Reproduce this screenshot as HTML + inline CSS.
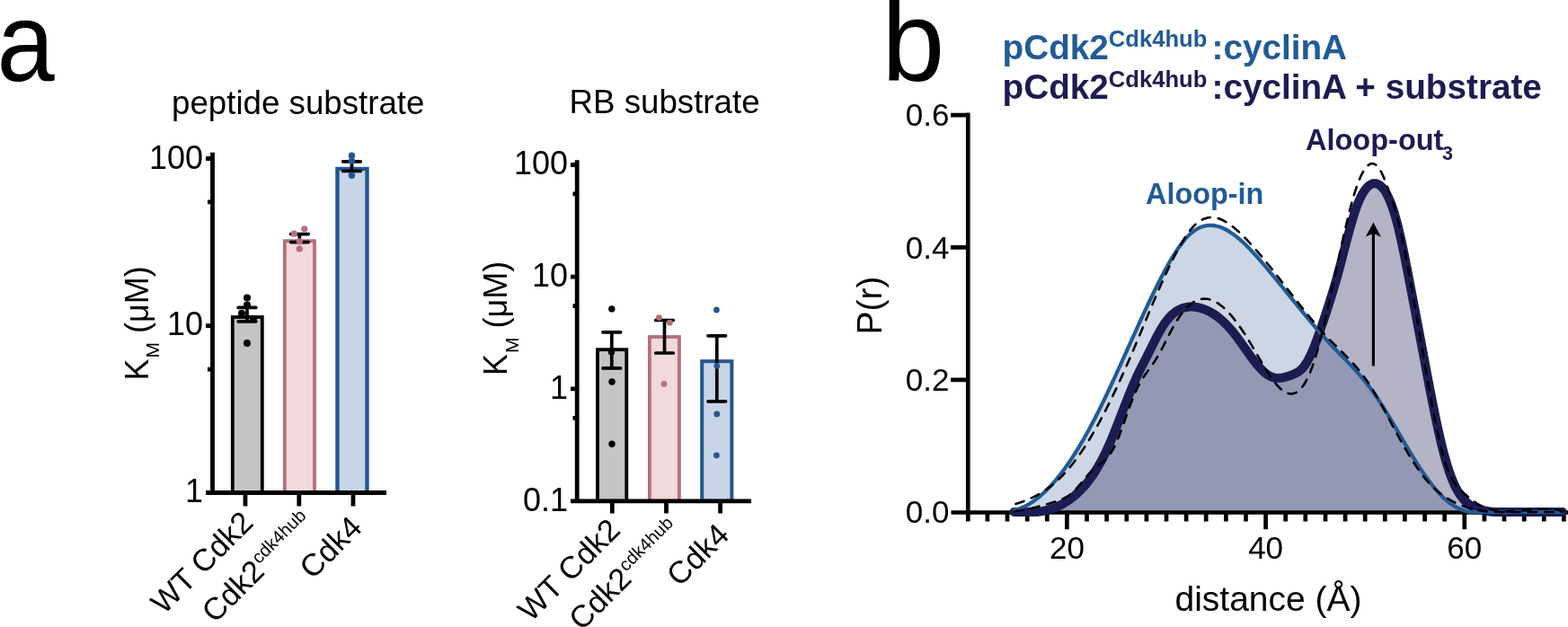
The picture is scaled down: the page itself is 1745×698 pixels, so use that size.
<!DOCTYPE html>
<html><head><meta charset="utf-8"><title>Figure</title>
<style>html,body{margin:0;padding:0;background:#fff;width:1745px;height:698px;overflow:hidden}svg{display:block}</style>
</head><body>
<svg width="1745" height="698" viewBox="0 0 1745 698">
<rect width="1745" height="698" fill="#fff"/>
<text transform="translate(-3.6,89.6) scale(0.93,1)" style="font-family:'Liberation Sans',Arial,Helvetica,sans-serif;font-size:124px" fill="#000">a</text>
<text x="981.3" y="90" style="font-family:'Liberation Sans',Arial,Helvetica,sans-serif;font-size:126px" fill="#000">b</text>
<rect x="258.8" y="353.0" width="33.0" height="195.5" fill="#c4c4c4" stroke="#000" stroke-width="3.8"/>
<rect x="316.8" y="268.2" width="33.2" height="280.3" fill="#f2d9dc" stroke="#b5707b" stroke-width="3.8"/>
<rect x="375.5" y="188.0" width="33.0" height="360.5" fill="#c8d5e6" stroke="#23568f" stroke-width="4.4"/>
<path d="M275.0,342.4 V357.8 M265.2,342.4 h19.6 M265.2,357.8 h19.6" stroke="#000" stroke-width="3.7" stroke-linecap="round" fill="none"/>
<path d="M333.4,260.6 V269.6 M323.6,260.6 h19.6 M323.6,269.6 h19.6" stroke="#000" stroke-width="3.7" stroke-linecap="round" fill="none"/>
<path d="M391.5,179.8 V190.5 M381.7,179.8 h19.6 M381.7,190.5 h19.6" stroke="#000" stroke-width="3.7" stroke-linecap="round" fill="none"/>
<circle cx="275.0" cy="331.5" r="4.0" fill="#000"/><circle cx="275.0" cy="339.5" r="4.0" fill="#000"/><circle cx="269.0" cy="348.7" r="4.0" fill="#000"/><circle cx="282.0" cy="355.0" r="4.0" fill="#000"/><circle cx="275.0" cy="382.0" r="4.0" fill="#000"/>
<circle cx="338.8" cy="254.8" r="3.6" fill="#b86f7c"/><circle cx="327.3" cy="260.2" r="3.6" fill="#b86f7c"/><circle cx="333.3" cy="268.8" r="3.6" fill="#b86f7c"/><circle cx="333.3" cy="277.0" r="3.6" fill="#b86f7c"/>
<circle cx="391.5" cy="173.3" r="3.7" fill="#24568f"/><circle cx="391.5" cy="179.3" r="3.7" fill="#24568f"/><circle cx="391.5" cy="195.2" r="3.7" fill="#24568f"/>
<path d="M236.5,169.7 V551 M229,548.5 H430 M229,176.5 H237 M229,362.7 H237 M231,224.9 H237 M231,411.1 H237 M273,551 V563.6 M332.8,551 V563.6 M393,551 V563.6" stroke="#000" stroke-width="4.8" fill="none"/>
<text x="226" y="188.3" text-anchor="end" style="font-family:'Liberation Sans',Arial,Helvetica,sans-serif;font-size:36px">100</text>
<text x="226" y="373.3" text-anchor="end" style="font-family:'Liberation Sans',Arial,Helvetica,sans-serif;font-size:36px">10</text>
<text x="226" y="559.0" text-anchor="end" style="font-family:'Liberation Sans',Arial,Helvetica,sans-serif;font-size:36px">1</text>
<text x="191" y="127" style="font-family:'Liberation Sans',Arial,Helvetica,sans-serif;font-size:36.7px">peptide substrate</text>
<text transform="translate(164.8,423.6) rotate(-90)" style="font-family:'Liberation Sans',Arial,Helvetica,sans-serif;font-size:36px">K<tspan font-size="21" dy="12.5" dx="1">M</tspan><tspan dy="-12.5"> (μM)</tspan></text>
<text transform="translate(283.5,583.7) rotate(-45)" text-anchor="end" style="font-family:'Liberation Sans',Arial,Helvetica,sans-serif;font-size:34.5px">WT Cdk2</text>
<text transform="translate(296.0,637.9) rotate(-45)" text-anchor="end" style="font-family:'Liberation Sans',Arial,Helvetica,sans-serif;font-size:34.5px">Cdk2</text>
<text transform="translate(404.8,589.1) rotate(-45)" text-anchor="end" style="font-family:'Liberation Sans',Arial,Helvetica,sans-serif;font-size:34.5px">Cdk4</text>
<text transform="translate(288.3,628.6) rotate(-45)" style="font-family:'Liberation Sans',Arial,Helvetica,sans-serif;font-size:20px">cdk4hub</text>
<rect x="665.0" y="389.2" width="32.3" height="168.6" fill="#c4c4c4" stroke="#000" stroke-width="3.8"/>
<rect x="722.9" y="375.0" width="33.0" height="182.8" fill="#f2d9dc" stroke="#b5707b" stroke-width="3.8"/>
<rect x="781.2" y="402.2" width="33.2" height="155.6" fill="#c8d5e6" stroke="#23568f" stroke-width="4.0"/>
<path d="M680.8,369.9 V409.9 M671.0,369.9 h19.6 M671.0,409.9 h19.6" stroke="#000" stroke-width="3.7" stroke-linecap="round" fill="none"/>
<path d="M739.5,356.5 V393.0 M729.7,356.5 h19.6 M729.7,393.0 h19.6" stroke="#000" stroke-width="3.7" stroke-linecap="round" fill="none"/>
<path d="M797.8,373.8 V446.8 M788.0,373.8 h19.6 M788.0,446.8 h19.6" stroke="#000" stroke-width="3.7" stroke-linecap="round" fill="none"/>
<circle cx="680.8" cy="343.9" r="3.7" fill="#000"/><circle cx="680.5" cy="392.0" r="3.7" fill="#000"/><circle cx="681.0" cy="425.0" r="3.7" fill="#000"/><circle cx="681.0" cy="494.3" r="3.7" fill="#000"/>
<circle cx="733.5" cy="353.6" r="3.4" fill="#b86f7c"/><circle cx="745.3" cy="359.2" r="3.4" fill="#b86f7c"/><circle cx="739.0" cy="427.4" r="3.4" fill="#b86f7c"/>
<circle cx="797.4" cy="345.0" r="3.4" fill="#24568f"/><circle cx="797.8" cy="407.3" r="3.4" fill="#24568f"/><circle cx="797.8" cy="460.9" r="3.4" fill="#24568f"/><circle cx="797.4" cy="507.0" r="3.4" fill="#24568f"/>
<path d="M642.2,178.3 V560 M635,557.8 H836 M635,183.5 H643 M635,308.2 H643 M635,432.9 H643 M637.5,215.9 H643 M637.5,340.6 H643 M637.5,465.3 H643 M681.3,560 V571.6 M741.5,560 V571.6 M801.6,560 V571.6" stroke="#000" stroke-width="4.8" fill="none"/>
<text x="632" y="194.4" text-anchor="end" style="font-family:'Liberation Sans',Arial,Helvetica,sans-serif;font-size:36px">100</text>
<text x="632" y="319.0" text-anchor="end" style="font-family:'Liberation Sans',Arial,Helvetica,sans-serif;font-size:36px">10</text>
<text x="632" y="444.2" text-anchor="end" style="font-family:'Liberation Sans',Arial,Helvetica,sans-serif;font-size:36px">1</text>
<text x="632" y="569.0" text-anchor="end" style="font-family:'Liberation Sans',Arial,Helvetica,sans-serif;font-size:36px">0.1</text>
<text x="633.5" y="125.5" style="font-family:'Liberation Sans',Arial,Helvetica,sans-serif;font-size:36.7px">RB substrate</text>
<text transform="translate(564.1,417.9) rotate(-90)" style="font-family:'Liberation Sans',Arial,Helvetica,sans-serif;font-size:36px">K<tspan font-size="21" dy="12.5" dx="1">M</tspan><tspan dy="-12.5"> (μM)</tspan></text>
<text transform="translate(692.0,592.0) rotate(-45)" text-anchor="end" style="font-family:'Liberation Sans',Arial,Helvetica,sans-serif;font-size:34.5px">WT Cdk2</text>
<text transform="translate(704.5,646.2) rotate(-45)" text-anchor="end" style="font-family:'Liberation Sans',Arial,Helvetica,sans-serif;font-size:34.5px">Cdk2</text>
<text transform="translate(813.3,597.4) rotate(-45)" text-anchor="end" style="font-family:'Liberation Sans',Arial,Helvetica,sans-serif;font-size:34.5px">Cdk4</text>
<text transform="translate(696.8,636.9) rotate(-45)" style="font-family:'Liberation Sans',Arial,Helvetica,sans-serif;font-size:20px">cdk4hub</text>
<path d="M1129.0,567.7 L1130.5,567.4 L1132.0,567.0 L1133.5,566.5 L1135.0,566.0 L1136.5,565.4 L1138.0,564.8 L1139.5,564.1 L1141.0,563.4 L1142.5,562.6 L1144.0,561.8 L1145.5,560.9 L1147.0,560.0 L1148.5,559.1 L1150.0,558.1 L1151.5,557.0 L1153.0,555.9 L1154.5,554.7 L1156.0,553.5 L1157.5,552.3 L1159.0,551.0 L1160.5,549.6 L1162.0,548.3 L1163.5,546.8 L1165.0,545.3 L1166.5,543.8 L1168.0,542.3 L1169.5,540.6 L1171.0,539.0 L1172.5,537.3 L1174.0,535.6 L1175.5,533.8 L1177.0,531.9 L1178.5,530.1 L1180.0,528.2 L1181.5,526.2 L1183.0,524.2 L1184.5,522.2 L1186.0,520.1 L1187.5,518.0 L1189.0,515.8 L1190.5,513.6 L1192.0,511.4 L1193.5,509.1 L1195.0,506.8 L1196.5,504.5 L1198.0,502.1 L1199.5,499.6 L1201.0,497.2 L1202.5,494.7 L1204.0,492.1 L1205.5,489.6 L1207.0,486.9 L1208.5,484.3 L1210.0,481.6 L1211.5,478.9 L1213.0,476.1 L1214.5,473.3 L1216.0,470.5 L1217.5,467.6 L1219.0,464.8 L1220.5,461.8 L1222.0,458.9 L1223.5,455.9 L1225.0,452.8 L1226.5,449.8 L1228.0,446.7 L1229.5,443.6 L1231.0,440.5 L1232.5,437.3 L1234.0,434.2 L1235.5,431.0 L1237.0,427.7 L1238.5,424.5 L1240.0,421.3 L1241.5,418.0 L1243.0,414.7 L1244.5,411.4 L1246.0,408.1 L1247.5,404.8 L1249.0,401.5 L1250.5,398.2 L1252.0,394.9 L1253.5,391.6 L1255.0,388.2 L1256.5,384.9 L1258.0,381.6 L1259.5,378.2 L1261.0,374.9 L1262.5,371.6 L1264.0,368.3 L1265.5,365.0 L1267.0,361.7 L1268.5,358.4 L1270.0,355.1 L1271.5,351.9 L1273.0,348.6 L1274.5,345.4 L1276.0,342.2 L1277.5,339.0 L1279.0,335.8 L1280.5,332.7 L1282.0,329.6 L1283.5,326.5 L1285.0,323.4 L1286.5,320.3 L1288.0,317.3 L1289.5,314.3 L1291.0,311.4 L1292.5,308.5 L1294.0,305.6 L1295.5,302.8 L1297.0,300.0 L1298.5,297.2 L1300.0,294.5 L1301.5,291.9 L1303.0,289.3 L1304.5,286.8 L1306.0,284.4 L1307.5,282.0 L1309.0,279.7 L1310.5,277.4 L1312.0,275.3 L1313.5,273.2 L1315.0,271.2 L1316.5,269.2 L1318.0,267.4 L1319.5,265.7 L1321.0,264.0 L1322.5,262.5 L1324.0,261.0 L1325.5,259.7 L1327.0,258.4 L1328.5,257.3 L1330.0,256.2 L1331.5,255.3 L1333.0,254.4 L1334.5,253.7 L1336.0,253.0 L1337.5,252.5 L1339.0,252.0 L1340.5,251.6 L1342.0,251.3 L1343.5,251.0 L1345.0,250.9 L1346.5,250.8 L1348.0,250.8 L1349.5,250.9 L1351.0,251.1 L1352.5,251.3 L1354.0,251.7 L1355.5,252.0 L1357.0,252.5 L1358.5,253.0 L1360.0,253.6 L1361.5,254.2 L1363.0,255.0 L1364.5,255.7 L1366.0,256.6 L1367.5,257.4 L1369.0,258.4 L1370.5,259.4 L1372.0,260.4 L1373.5,261.5 L1375.0,262.6 L1376.5,263.8 L1378.0,265.1 L1379.5,266.3 L1381.0,267.7 L1382.5,269.0 L1384.0,270.4 L1385.5,271.8 L1387.0,273.3 L1388.5,274.8 L1390.0,276.3 L1391.5,277.9 L1393.0,279.5 L1394.5,281.1 L1396.0,282.7 L1397.5,284.4 L1399.0,286.0 L1400.5,287.7 L1402.0,289.5 L1403.5,291.2 L1405.0,292.9 L1406.5,294.7 L1408.0,296.4 L1409.5,298.2 L1411.0,300.0 L1412.5,301.8 L1414.0,303.6 L1415.5,305.4 L1417.0,307.2 L1418.5,309.0 L1420.0,310.9 L1421.5,312.7 L1423.0,314.5 L1424.5,316.4 L1426.0,318.2 L1427.5,320.0 L1429.0,321.9 L1430.5,323.7 L1432.0,325.6 L1433.5,327.4 L1435.0,329.3 L1436.5,331.1 L1438.0,333.0 L1439.5,334.8 L1441.0,336.7 L1442.5,338.5 L1444.0,340.4 L1445.5,342.2 L1447.0,344.0 L1448.5,345.9 L1450.0,347.7 L1451.5,349.5 L1453.0,351.3 L1454.5,353.2 L1456.0,355.0 L1457.5,356.7 L1459.0,358.5 L1460.5,360.3 L1462.0,362.1 L1463.5,363.8 L1465.0,365.6 L1466.5,367.3 L1468.0,369.1 L1469.5,370.8 L1471.0,372.5 L1472.5,374.2 L1474.0,375.9 L1475.5,377.5 L1477.0,379.2 L1478.5,380.8 L1480.0,382.4 L1481.5,384.0 L1483.0,385.6 L1484.5,387.2 L1486.0,388.8 L1487.5,390.3 L1489.0,391.9 L1490.5,393.4 L1492.0,394.9 L1493.5,396.5 L1495.0,398.0 L1496.5,399.6 L1498.0,401.1 L1499.5,402.6 L1501.0,404.2 L1502.5,405.8 L1504.0,407.4 L1505.5,409.0 L1507.0,410.6 L1508.5,412.2 L1510.0,413.9 L1511.5,415.5 L1513.0,417.3 L1514.5,419.0 L1516.0,420.8 L1517.5,422.5 L1519.0,424.4 L1520.5,426.2 L1522.0,428.2 L1523.5,430.1 L1525.0,432.1 L1526.5,434.1 L1528.0,436.2 L1529.5,438.3 L1531.0,440.5 L1532.5,442.7 L1534.0,445.0 L1535.5,447.2 L1537.0,449.6 L1538.5,451.9 L1540.0,454.3 L1541.5,456.7 L1543.0,459.2 L1544.5,461.6 L1546.0,464.1 L1547.5,466.6 L1549.0,469.1 L1550.5,471.6 L1552.0,474.2 L1553.5,476.7 L1555.0,479.3 L1556.5,481.8 L1558.0,484.4 L1559.5,486.9 L1561.0,489.5 L1562.5,492.0 L1564.0,494.6 L1565.5,497.1 L1567.0,499.6 L1568.5,502.1 L1570.0,504.6 L1571.5,507.0 L1573.0,509.5 L1574.5,511.9 L1576.0,514.3 L1577.5,516.6 L1579.0,519.0 L1580.5,521.3 L1582.0,523.5 L1583.5,525.8 L1585.0,527.9 L1586.5,530.1 L1588.0,532.2 L1589.5,534.3 L1591.0,536.3 L1592.5,538.3 L1594.0,540.2 L1595.5,542.1 L1597.0,543.9 L1598.5,545.7 L1600.0,547.4 L1601.5,549.0 L1603.0,550.6 L1604.5,552.2 L1606.0,553.7 L1607.5,555.1 L1609.0,556.4 L1610.5,557.7 L1612.0,558.9 L1613.5,560.0 L1615.0,561.1 L1616.5,562.1 L1618.0,563.1 L1619.5,563.9 L1621.0,564.8 L1622.5,565.5 L1624.0,566.2 L1625.5,566.9 L1627.0,567.5 L1628.5,568.0 L1630.0,568.5 L1631.5,569.0 L1633.0,569.4 L1634.5,569.8 L1636.0,570.0 L1637.5,570.0 L1639.0,570.0 L1640.5,570.0 L1642.0,570.0 L1643.5,570.0 L1645.0,570.0 L1646.5,570.0 L1648.0,570.0 L1649.5,570.0 L1651.0,570.0 L1652.5,570.0 L1654.0,570.0 L1655.5,570.0 L1657.0,570.0 L1658.5,570.0 L1660.0,570.0 L1661.5,570.0 L1663.0,570.0 L1664.5,570.0 L1666.0,570.0 L1667.5,570.0 L1669.0,570.0 L1670.5,570.0 L1672.0,570.0 L1673.5,570.0 L1675.0,570.0 L1676.5,570.0 L1678.0,570.0 L1679.5,570.0 L1681.0,570.0 L1682.5,570.0 L1684.0,570.0 L1685.5,570.0 L1687.0,570.0 L1688.5,570.0 L1690.0,570.0 L1691.5,570.0 L1693.0,570.0 L1694.5,570.0 L1696.0,570.0 L1697.5,570.0 L1699.0,570.0 L1700.5,570.0 L1702.0,570.0 L1703.5,570.0 L1705.0,570.0 L1706.5,570.0 L1708.0,570.0 L1709.5,570.0 L1711.0,570.0 L1712.5,570.0 L1714.0,570.0 L1715.5,570.0 L1717.0,570.0 L1718.5,570.0 L1720.0,570.0 L1721.5,570.0 L1723.0,570.0 L1724.5,570.0 L1726.0,570.0 L1727.5,570.0 L1729.0,570.0 L1730.5,570.0 L1732.0,570.0 L1733.5,570.0 L1735.0,570.0 L1736.5,570.0 L1738.0,570.0 L1739.5,570.0 L1739.5,570.0 L1129.0,570.0 Z" fill="#ccd6e4"/>
<path d="M1128.5,570.0 L1130.0,570.0 L1131.5,570.0 L1133.0,570.0 L1134.5,570.0 L1136.0,570.0 L1137.5,570.0 L1139.0,570.0 L1140.5,570.0 L1142.0,570.0 L1143.5,570.0 L1145.0,570.0 L1146.5,570.0 L1148.0,570.0 L1149.5,570.0 L1151.0,570.0 L1152.5,570.0 L1154.0,570.0 L1155.5,569.8 L1157.0,569.6 L1158.5,569.4 L1160.0,569.1 L1161.5,568.8 L1163.0,568.5 L1164.5,568.1 L1166.0,567.7 L1167.5,567.3 L1169.0,566.9 L1170.5,566.4 L1172.0,565.8 L1173.5,565.3 L1175.0,564.7 L1176.5,564.0 L1178.0,563.3 L1179.5,562.6 L1181.0,561.9 L1182.5,561.1 L1184.0,560.2 L1185.5,559.3 L1187.0,558.4 L1188.5,557.4 L1190.0,556.4 L1191.5,555.3 L1193.0,554.1 L1194.5,553.0 L1196.0,551.7 L1197.5,550.4 L1199.0,549.1 L1200.5,547.7 L1202.0,546.2 L1203.5,544.7 L1205.0,543.1 L1206.5,541.4 L1208.0,539.7 L1209.5,537.8 L1211.0,535.9 L1212.5,534.0 L1214.0,531.9 L1215.5,529.8 L1217.0,527.6 L1218.5,525.3 L1220.0,522.9 L1221.5,520.4 L1223.0,517.8 L1224.5,515.1 L1226.0,512.4 L1227.5,509.5 L1229.0,506.5 L1230.5,503.4 L1232.0,500.3 L1233.5,497.0 L1235.0,493.6 L1236.5,490.1 L1238.0,486.5 L1239.5,482.8 L1241.0,479.1 L1242.5,475.3 L1244.0,471.5 L1245.5,467.7 L1247.0,463.8 L1248.5,459.9 L1250.0,456.0 L1251.5,452.2 L1253.0,448.3 L1254.5,444.5 L1256.0,440.7 L1257.5,437.0 L1259.0,433.3 L1260.5,429.8 L1262.0,426.3 L1263.5,422.9 L1265.0,419.6 L1266.5,416.4 L1268.0,413.3 L1269.5,410.3 L1271.0,407.3 L1272.5,404.4 L1274.0,401.4 L1275.5,398.5 L1277.0,395.5 L1278.5,392.5 L1280.0,389.5 L1281.5,386.5 L1283.0,383.5 L1284.5,380.5 L1286.0,377.5 L1287.5,374.6 L1289.0,371.8 L1290.5,369.1 L1292.0,366.5 L1293.5,364.0 L1295.0,361.6 L1296.5,359.4 L1298.0,357.4 L1299.5,355.5 L1301.0,353.7 L1302.5,352.1 L1304.0,350.6 L1305.5,349.3 L1307.0,348.1 L1308.5,347.0 L1310.0,346.0 L1311.5,345.1 L1313.0,344.3 L1314.5,343.7 L1316.0,343.1 L1317.5,342.6 L1319.0,342.3 L1320.5,342.0 L1322.0,341.8 L1323.5,341.6 L1325.0,341.6 L1326.5,341.6 L1328.0,341.6 L1329.5,341.8 L1331.0,342.0 L1332.5,342.2 L1334.0,342.5 L1335.5,342.8 L1337.0,343.3 L1338.5,343.7 L1340.0,344.2 L1341.5,344.8 L1343.0,345.5 L1344.5,346.1 L1346.0,346.9 L1347.5,347.7 L1349.0,348.6 L1350.5,349.5 L1352.0,350.5 L1353.5,351.5 L1355.0,352.6 L1356.5,353.8 L1358.0,355.0 L1359.5,356.3 L1361.0,357.7 L1362.5,359.1 L1364.0,360.5 L1365.5,362.1 L1367.0,363.7 L1368.5,365.3 L1370.0,367.0 L1371.5,368.8 L1373.0,370.7 L1374.5,372.6 L1376.0,374.5 L1377.5,376.5 L1379.0,378.6 L1380.5,380.7 L1382.0,382.8 L1383.5,384.9 L1385.0,387.0 L1386.5,389.1 L1388.0,391.3 L1389.5,393.4 L1391.0,395.5 L1392.5,397.5 L1394.0,399.5 L1395.5,401.5 L1397.0,403.4 L1398.5,405.3 L1400.0,407.1 L1401.5,408.8 L1403.0,410.4 L1404.5,412.0 L1406.0,413.4 L1407.5,414.8 L1409.0,416.0 L1410.5,417.1 L1412.0,418.0 L1413.5,418.9 L1415.0,419.5 L1416.5,420.1 L1418.0,420.5 L1419.5,420.7 L1421.0,420.9 L1422.5,420.9 L1424.0,420.8 L1425.5,420.7 L1427.0,420.5 L1428.5,420.2 L1430.0,419.8 L1431.5,419.4 L1433.0,418.9 L1434.5,418.4 L1436.0,417.9 L1437.5,417.4 L1439.0,416.8 L1440.5,416.2 L1442.0,415.5 L1443.5,414.8 L1445.0,413.8 L1446.5,412.7 L1448.0,411.4 L1449.5,409.9 L1451.0,408.1 L1452.5,406.0 L1454.0,403.7 L1455.5,401.2 L1457.0,398.4 L1458.5,395.3 L1460.0,392.1 L1461.5,388.5 L1463.0,384.8 L1464.5,380.9 L1466.0,376.9 L1467.5,372.7 L1469.0,368.4 L1470.5,364.0 L1472.0,359.6 L1473.5,355.1 L1475.0,350.6 L1476.5,346.1 L1478.0,341.5 L1479.5,336.8 L1481.0,332.1 L1482.5,327.2 L1484.0,322.3 L1485.5,317.2 L1487.0,312.0 L1488.5,306.6 L1490.0,301.1 L1491.5,295.5 L1493.0,289.7 L1494.5,283.9 L1496.0,278.1 L1497.5,272.3 L1499.0,266.6 L1500.5,261.0 L1502.0,255.5 L1503.5,250.1 L1505.0,245.0 L1506.5,240.1 L1508.0,235.4 L1509.5,231.1 L1511.0,227.1 L1512.5,223.5 L1514.0,220.2 L1515.5,217.2 L1517.0,214.6 L1518.5,212.2 L1520.0,210.2 L1521.5,208.5 L1523.0,207.0 L1524.5,205.9 L1526.0,205.1 L1527.5,204.5 L1529.0,204.2 L1530.5,204.2 L1532.0,204.5 L1533.5,205.0 L1535.0,205.8 L1536.5,207.0 L1538.0,208.4 L1539.5,210.1 L1541.0,212.2 L1542.5,214.6 L1544.0,217.4 L1545.5,220.5 L1547.0,223.9 L1548.5,227.7 L1550.0,232.0 L1551.5,236.6 L1553.0,241.6 L1554.5,247.0 L1556.0,252.8 L1557.5,259.1 L1559.0,265.6 L1560.5,272.6 L1562.0,279.7 L1563.5,287.1 L1565.0,294.7 L1566.5,302.4 L1568.0,310.2 L1569.5,318.1 L1571.0,325.9 L1572.5,333.8 L1574.0,341.6 L1575.5,349.5 L1577.0,357.4 L1578.5,365.3 L1580.0,373.3 L1581.5,381.2 L1583.0,389.2 L1584.5,397.2 L1586.0,405.2 L1587.5,413.1 L1589.0,421.1 L1590.5,429.0 L1592.0,436.7 L1593.5,444.4 L1595.0,452.0 L1596.5,459.4 L1598.0,466.7 L1599.5,473.7 L1601.0,480.5 L1602.5,487.1 L1604.0,493.5 L1605.5,499.6 L1607.0,505.4 L1608.5,510.9 L1610.0,516.0 L1611.5,520.9 L1613.0,525.4 L1614.5,529.6 L1616.0,533.5 L1617.5,537.1 L1619.0,540.4 L1620.5,543.4 L1622.0,546.2 L1623.5,548.7 L1625.0,551.0 L1626.5,553.1 L1628.0,554.9 L1629.5,556.6 L1631.0,558.1 L1632.5,559.5 L1634.0,560.7 L1635.5,561.8 L1637.0,562.7 L1638.5,563.6 L1640.0,564.4 L1641.5,565.0 L1643.0,565.6 L1644.5,566.2 L1646.0,566.7 L1647.5,567.2 L1649.0,567.6 L1650.5,568.0 L1652.0,568.4 L1653.5,568.7 L1655.0,569.0 L1656.5,569.3 L1658.0,569.5 L1659.5,569.7 L1661.0,569.8 L1662.5,570.0 L1664.0,570.0 L1665.5,570.0 L1667.0,570.0 L1668.5,570.0 L1670.0,570.0 L1671.5,570.0 L1673.0,570.0 L1674.5,570.0 L1676.0,570.0 L1677.5,570.0 L1679.0,570.0 L1680.5,570.0 L1682.0,570.0 L1683.5,570.0 L1685.0,570.0 L1686.5,570.0 L1688.0,570.0 L1689.5,570.0 L1691.0,570.0 L1692.5,570.0 L1694.0,570.0 L1695.5,570.0 L1697.0,570.0 L1698.5,570.0 L1700.0,570.0 L1701.5,570.0 L1703.0,570.0 L1704.5,570.0 L1706.0,570.0 L1707.5,570.0 L1709.0,570.0 L1710.5,570.0 L1712.0,570.0 L1713.5,570.0 L1715.0,570.0 L1716.5,570.0 L1718.0,570.0 L1719.5,570.0 L1721.0,570.0 L1722.5,570.0 L1724.0,570.0 L1725.5,570.0 L1727.0,570.0 L1728.5,570.0 L1730.0,570.0 L1731.5,570.0 L1733.0,570.0 L1734.5,570.0 L1736.0,570.0 L1737.5,570.0 L1739.0,570.0 L1739.0,570.0 L1128.5,570.0 Z" fill="#1d1c52" fill-opacity="0.33"/>
<path d="M1077.3,125.5 V580.6 M1058.5,570.5 H1745 M1058,128.2 H1078 M1058,275.4 H1078 M1058,422.8 H1078 M1098.9,572 V580.6 M1121.0,572 V580.6 M1143.2,572 V580.6 M1165.3,572 V580.6 M1187.4,572 V589.2 M1209.5,572 V580.6 M1231.6,572 V580.6 M1253.8,572 V580.6 M1275.9,572 V580.6 M1298.0,572 V580.6 M1320.1,572 V580.6 M1342.2,572 V580.6 M1364.4,572 V580.6 M1386.5,572 V580.6 M1408.6,572 V589.2 M1430.7,572 V580.6 M1452.8,572 V580.6 M1475.0,572 V580.6 M1497.1,572 V580.6 M1519.2,572 V580.6 M1541.3,572 V580.6 M1563.4,572 V580.6 M1585.6,572 V580.6 M1607.7,572 V580.6 M1629.8,572 V589.2 M1651.9,572 V580.6 M1674.0,572 V580.6 M1696.2,572 V580.6 M1718.3,572 V580.6 M1740.4,572 V580.6" stroke="#000" stroke-width="4.7" fill="none"/>
<path d="M1128.5,570.0 L1130.0,570.0 L1131.5,570.0 L1133.0,570.0 L1134.5,570.0 L1136.0,570.0 L1137.5,570.0 L1139.0,570.0 L1140.5,570.0 L1142.0,570.0 L1143.5,570.0 L1145.0,570.0 L1146.5,570.0 L1148.0,570.0 L1149.5,570.0 L1151.0,570.0 L1152.5,570.0 L1154.0,570.0 L1155.5,569.8 L1157.0,569.6 L1158.5,569.4 L1160.0,569.1 L1161.5,568.8 L1163.0,568.5 L1164.5,568.1 L1166.0,567.7 L1167.5,567.3 L1169.0,566.9 L1170.5,566.4 L1172.0,565.8 L1173.5,565.3 L1175.0,564.7 L1176.5,564.0 L1178.0,563.3 L1179.5,562.6 L1181.0,561.9 L1182.5,561.1 L1184.0,560.2 L1185.5,559.3 L1187.0,558.4 L1188.5,557.4 L1190.0,556.4 L1191.5,555.3 L1193.0,554.1 L1194.5,553.0 L1196.0,551.7 L1197.5,550.4 L1199.0,549.1 L1200.5,547.7 L1202.0,546.2 L1203.5,544.7 L1205.0,543.1 L1206.5,541.4 L1208.0,539.7 L1209.5,537.8 L1211.0,535.9 L1212.5,534.0 L1214.0,531.9 L1215.5,529.8 L1217.0,527.6 L1218.5,525.3 L1220.0,522.9 L1221.5,520.4 L1223.0,517.8 L1224.5,515.1 L1226.0,512.4 L1227.5,509.5 L1229.0,506.5 L1230.5,503.4 L1232.0,500.3 L1233.5,497.0 L1235.0,493.6 L1236.5,490.1 L1238.0,486.5 L1239.5,482.8 L1241.0,479.1 L1242.5,475.3 L1244.0,471.5 L1245.5,467.7 L1247.0,463.8 L1248.5,459.9 L1250.0,456.0 L1251.5,452.2 L1253.0,448.3 L1254.5,444.5 L1256.0,440.7 L1257.5,437.0 L1259.0,433.3 L1260.5,429.8 L1262.0,426.3 L1263.5,422.9 L1265.0,419.6 L1266.5,416.4 L1268.0,413.3 L1269.5,410.3 L1271.0,407.3 L1272.5,404.4 L1274.0,401.4 L1275.5,398.5 L1277.0,395.5 L1278.5,392.5 L1280.0,389.5 L1281.5,386.5 L1283.0,383.5 L1284.5,380.5 L1286.0,377.5 L1287.5,374.6 L1289.0,371.8 L1290.5,369.1 L1292.0,366.5 L1293.5,364.0 L1295.0,361.6 L1296.5,359.4 L1298.0,357.4 L1299.5,355.5 L1301.0,353.7 L1302.5,352.1 L1304.0,350.6 L1305.5,349.3 L1307.0,348.1 L1308.5,347.0 L1310.0,346.0 L1311.5,345.1 L1313.0,344.3 L1314.5,343.7 L1316.0,343.1 L1317.5,342.6 L1319.0,342.3 L1320.5,342.0 L1322.0,341.8 L1323.5,341.6 L1325.0,341.6 L1326.5,341.6 L1328.0,341.6 L1329.5,341.8 L1331.0,342.0 L1332.5,342.2 L1334.0,342.5 L1335.5,342.8 L1337.0,343.3 L1338.5,343.7 L1340.0,344.2 L1341.5,344.8 L1343.0,345.5 L1344.5,346.1 L1346.0,346.9 L1347.5,347.7 L1349.0,348.6 L1350.5,349.5 L1352.0,350.5 L1353.5,351.5 L1355.0,352.6 L1356.5,353.8 L1358.0,355.0 L1359.5,356.3 L1361.0,357.7 L1362.5,359.1 L1364.0,360.5 L1365.5,362.1 L1367.0,363.7 L1368.5,365.3 L1370.0,367.0 L1371.5,368.8 L1373.0,370.7 L1374.5,372.6 L1376.0,374.5 L1377.5,376.5 L1379.0,378.6 L1380.5,380.7 L1382.0,382.8 L1383.5,384.9 L1385.0,387.0 L1386.5,389.1 L1388.0,391.3 L1389.5,393.4 L1391.0,395.5 L1392.5,397.5 L1394.0,399.5 L1395.5,401.5 L1397.0,403.4 L1398.5,405.3 L1400.0,407.1 L1401.5,408.8 L1403.0,410.4 L1404.5,412.0 L1406.0,413.4 L1407.5,414.8 L1409.0,416.0 L1410.5,417.1 L1412.0,418.0 L1413.5,418.9 L1415.0,419.5 L1416.5,420.1 L1418.0,420.5 L1419.5,420.7 L1421.0,420.9 L1422.5,420.9 L1424.0,420.8 L1425.5,420.7 L1427.0,420.5 L1428.5,420.2 L1430.0,419.8 L1431.5,419.4 L1433.0,418.9 L1434.5,418.4 L1436.0,417.9 L1437.5,417.4 L1439.0,416.8 L1440.5,416.2 L1442.0,415.5 L1443.5,414.8 L1445.0,413.8 L1446.5,412.7 L1448.0,411.4 L1449.5,409.9 L1451.0,408.1 L1452.5,406.0 L1454.0,403.7 L1455.5,401.2 L1457.0,398.4 L1458.5,395.3 L1460.0,392.1 L1461.5,388.5 L1463.0,384.8 L1464.5,380.9 L1466.0,376.9 L1467.5,372.7 L1469.0,368.4 L1470.5,364.0 L1472.0,359.6 L1473.5,355.1 L1475.0,350.6 L1476.5,346.1 L1478.0,341.5 L1479.5,336.8 L1481.0,332.1 L1482.5,327.2 L1484.0,322.3 L1485.5,317.2 L1487.0,312.0 L1488.5,306.6 L1490.0,301.1 L1491.5,295.5 L1493.0,289.7 L1494.5,283.9 L1496.0,278.1 L1497.5,272.3 L1499.0,266.6 L1500.5,261.0 L1502.0,255.5 L1503.5,250.1 L1505.0,245.0 L1506.5,240.1 L1508.0,235.4 L1509.5,231.1 L1511.0,227.1 L1512.5,223.5 L1514.0,220.2 L1515.5,217.2 L1517.0,214.6 L1518.5,212.2 L1520.0,210.2 L1521.5,208.5 L1523.0,207.0 L1524.5,205.9 L1526.0,205.1 L1527.5,204.5 L1529.0,204.2 L1530.5,204.2 L1532.0,204.5 L1533.5,205.0 L1535.0,205.8 L1536.5,207.0 L1538.0,208.4 L1539.5,210.1 L1541.0,212.2 L1542.5,214.6 L1544.0,217.4 L1545.5,220.5 L1547.0,223.9 L1548.5,227.7 L1550.0,232.0 L1551.5,236.6 L1553.0,241.6 L1554.5,247.0 L1556.0,252.8 L1557.5,259.1 L1559.0,265.6 L1560.5,272.6 L1562.0,279.7 L1563.5,287.1 L1565.0,294.7 L1566.5,302.4 L1568.0,310.2 L1569.5,318.1 L1571.0,325.9 L1572.5,333.8 L1574.0,341.6 L1575.5,349.5 L1577.0,357.4 L1578.5,365.3 L1580.0,373.3 L1581.5,381.2 L1583.0,389.2 L1584.5,397.2 L1586.0,405.2 L1587.5,413.1 L1589.0,421.1 L1590.5,429.0 L1592.0,436.7 L1593.5,444.4 L1595.0,452.0 L1596.5,459.4 L1598.0,466.7 L1599.5,473.7 L1601.0,480.5 L1602.5,487.1 L1604.0,493.5 L1605.5,499.6 L1607.0,505.4 L1608.5,510.9 L1610.0,516.0 L1611.5,520.9 L1613.0,525.4 L1614.5,529.6 L1616.0,533.5 L1617.5,537.1 L1619.0,540.4 L1620.5,543.4 L1622.0,546.2 L1623.5,548.7 L1625.0,551.0 L1626.5,553.1 L1628.0,554.9 L1629.5,556.6 L1631.0,558.1 L1632.5,559.5 L1634.0,560.7 L1635.5,561.8 L1637.0,562.7 L1638.5,563.6 L1640.0,564.4 L1641.5,565.0 L1643.0,565.6 L1644.5,566.2 L1646.0,566.7 L1647.5,567.2 L1649.0,567.6 L1650.5,568.0 L1652.0,568.4 L1653.5,568.7 L1655.0,569.0 L1656.5,569.3 L1658.0,569.5 L1659.5,569.7 L1661.0,569.8 L1662.5,570.0 L1664.0,570.0 L1665.5,570.0 L1667.0,570.0 L1668.5,570.0 L1670.0,570.0 L1671.5,570.0 L1673.0,570.0 L1674.5,570.0 L1676.0,570.0 L1677.5,570.0 L1679.0,570.0 L1680.5,570.0 L1682.0,570.0 L1683.5,570.0 L1685.0,570.0 L1686.5,570.0 L1688.0,570.0 L1689.5,570.0 L1691.0,570.0 L1692.5,570.0 L1694.0,570.0 L1695.5,570.0 L1697.0,570.0 L1698.5,570.0 L1700.0,570.0 L1701.5,570.0 L1703.0,570.0 L1704.5,570.0 L1706.0,570.0 L1707.5,570.0 L1709.0,570.0 L1710.5,570.0 L1712.0,570.0 L1713.5,570.0 L1715.0,570.0 L1716.5,570.0 L1718.0,570.0 L1719.5,570.0 L1721.0,570.0 L1722.5,570.0 L1724.0,570.0 L1725.5,570.0 L1727.0,570.0 L1728.5,570.0 L1730.0,570.0 L1731.5,570.0 L1733.0,570.0 L1734.5,570.0 L1736.0,570.0 L1737.5,570.0 L1739.0,570.0" fill="none" stroke="#1d1c52" stroke-width="10" stroke-linecap="round" stroke-linejoin="round"/>
<path d="M1129.0,567.7 L1130.5,567.4 L1132.0,567.0 L1133.5,566.5 L1135.0,566.0 L1136.5,565.4 L1138.0,564.8 L1139.5,564.1 L1141.0,563.4 L1142.5,562.6 L1144.0,561.8 L1145.5,560.9 L1147.0,560.0 L1148.5,559.1 L1150.0,558.1 L1151.5,557.0 L1153.0,555.9 L1154.5,554.7 L1156.0,553.5 L1157.5,552.3 L1159.0,551.0 L1160.5,549.6 L1162.0,548.3 L1163.5,546.8 L1165.0,545.3 L1166.5,543.8 L1168.0,542.3 L1169.5,540.6 L1171.0,539.0 L1172.5,537.3 L1174.0,535.6 L1175.5,533.8 L1177.0,531.9 L1178.5,530.1 L1180.0,528.2 L1181.5,526.2 L1183.0,524.2 L1184.5,522.2 L1186.0,520.1 L1187.5,518.0 L1189.0,515.8 L1190.5,513.6 L1192.0,511.4 L1193.5,509.1 L1195.0,506.8 L1196.5,504.5 L1198.0,502.1 L1199.5,499.6 L1201.0,497.2 L1202.5,494.7 L1204.0,492.1 L1205.5,489.6 L1207.0,486.9 L1208.5,484.3 L1210.0,481.6 L1211.5,478.9 L1213.0,476.1 L1214.5,473.3 L1216.0,470.5 L1217.5,467.6 L1219.0,464.8 L1220.5,461.8 L1222.0,458.9 L1223.5,455.9 L1225.0,452.8 L1226.5,449.8 L1228.0,446.7 L1229.5,443.6 L1231.0,440.5 L1232.5,437.3 L1234.0,434.2 L1235.5,431.0 L1237.0,427.7 L1238.5,424.5 L1240.0,421.3 L1241.5,418.0 L1243.0,414.7 L1244.5,411.4 L1246.0,408.1 L1247.5,404.8 L1249.0,401.5 L1250.5,398.2 L1252.0,394.9 L1253.5,391.6 L1255.0,388.2 L1256.5,384.9 L1258.0,381.6 L1259.5,378.2 L1261.0,374.9 L1262.5,371.6 L1264.0,368.3 L1265.5,365.0 L1267.0,361.7 L1268.5,358.4 L1270.0,355.1 L1271.5,351.9 L1273.0,348.6 L1274.5,345.4 L1276.0,342.2 L1277.5,339.0 L1279.0,335.8 L1280.5,332.7 L1282.0,329.6 L1283.5,326.5 L1285.0,323.4 L1286.5,320.3 L1288.0,317.3 L1289.5,314.3 L1291.0,311.4 L1292.5,308.5 L1294.0,305.6 L1295.5,302.8 L1297.0,300.0 L1298.5,297.2 L1300.0,294.5 L1301.5,291.9 L1303.0,289.3 L1304.5,286.8 L1306.0,284.4 L1307.5,282.0 L1309.0,279.7 L1310.5,277.4 L1312.0,275.3 L1313.5,273.2 L1315.0,271.2 L1316.5,269.2 L1318.0,267.4 L1319.5,265.7 L1321.0,264.0 L1322.5,262.5 L1324.0,261.0 L1325.5,259.7 L1327.0,258.4 L1328.5,257.3 L1330.0,256.2 L1331.5,255.3 L1333.0,254.4 L1334.5,253.7 L1336.0,253.0 L1337.5,252.5 L1339.0,252.0 L1340.5,251.6 L1342.0,251.3 L1343.5,251.0 L1345.0,250.9 L1346.5,250.8 L1348.0,250.8 L1349.5,250.9 L1351.0,251.1 L1352.5,251.3 L1354.0,251.7 L1355.5,252.0 L1357.0,252.5 L1358.5,253.0 L1360.0,253.6 L1361.5,254.2 L1363.0,255.0 L1364.5,255.7 L1366.0,256.6 L1367.5,257.4 L1369.0,258.4 L1370.5,259.4 L1372.0,260.4 L1373.5,261.5 L1375.0,262.6 L1376.5,263.8 L1378.0,265.1 L1379.5,266.3 L1381.0,267.7 L1382.5,269.0 L1384.0,270.4 L1385.5,271.8 L1387.0,273.3 L1388.5,274.8 L1390.0,276.3 L1391.5,277.9 L1393.0,279.5 L1394.5,281.1 L1396.0,282.7 L1397.5,284.4 L1399.0,286.0 L1400.5,287.7 L1402.0,289.5 L1403.5,291.2 L1405.0,292.9 L1406.5,294.7 L1408.0,296.4 L1409.5,298.2 L1411.0,300.0 L1412.5,301.8 L1414.0,303.6 L1415.5,305.4 L1417.0,307.2 L1418.5,309.0 L1420.0,310.9 L1421.5,312.7 L1423.0,314.5 L1424.5,316.4 L1426.0,318.2 L1427.5,320.0 L1429.0,321.9 L1430.5,323.7 L1432.0,325.6 L1433.5,327.4 L1435.0,329.3 L1436.5,331.1 L1438.0,333.0 L1439.5,334.8 L1441.0,336.7 L1442.5,338.5 L1444.0,340.4 L1445.5,342.2 L1447.0,344.0 L1448.5,345.9 L1450.0,347.7 L1451.5,349.5 L1453.0,351.3 L1454.5,353.2 L1456.0,355.0 L1457.5,356.7 L1459.0,358.5 L1460.5,360.3 L1462.0,362.1 L1463.5,363.8 L1465.0,365.6 L1466.5,367.3 L1468.0,369.1 L1469.5,370.8 L1471.0,372.5 L1472.5,374.2 L1474.0,375.9 L1475.5,377.5 L1477.0,379.2 L1478.5,380.8 L1480.0,382.4 L1481.5,384.0 L1483.0,385.6 L1484.5,387.2 L1486.0,388.8 L1487.5,390.3 L1489.0,391.9 L1490.5,393.4 L1492.0,394.9 L1493.5,396.5 L1495.0,398.0 L1496.5,399.6 L1498.0,401.1 L1499.5,402.6 L1501.0,404.2 L1502.5,405.8 L1504.0,407.4 L1505.5,409.0 L1507.0,410.6 L1508.5,412.2 L1510.0,413.9 L1511.5,415.5 L1513.0,417.3 L1514.5,419.0 L1516.0,420.8 L1517.5,422.5 L1519.0,424.4 L1520.5,426.2 L1522.0,428.2 L1523.5,430.1 L1525.0,432.1 L1526.5,434.1 L1528.0,436.2 L1529.5,438.3 L1531.0,440.5 L1532.5,442.7 L1534.0,445.0 L1535.5,447.2 L1537.0,449.6 L1538.5,451.9 L1540.0,454.3 L1541.5,456.7 L1543.0,459.2 L1544.5,461.6 L1546.0,464.1 L1547.5,466.6 L1549.0,469.1 L1550.5,471.6 L1552.0,474.2 L1553.5,476.7 L1555.0,479.3 L1556.5,481.8 L1558.0,484.4 L1559.5,486.9 L1561.0,489.5 L1562.5,492.0 L1564.0,494.6 L1565.5,497.1 L1567.0,499.6 L1568.5,502.1 L1570.0,504.6 L1571.5,507.0 L1573.0,509.5 L1574.5,511.9 L1576.0,514.3 L1577.5,516.6 L1579.0,519.0 L1580.5,521.3 L1582.0,523.5 L1583.5,525.8 L1585.0,527.9 L1586.5,530.1 L1588.0,532.2 L1589.5,534.3 L1591.0,536.3 L1592.5,538.3 L1594.0,540.2 L1595.5,542.1 L1597.0,543.9 L1598.5,545.7 L1600.0,547.4 L1601.5,549.0 L1603.0,550.6 L1604.5,552.2 L1606.0,553.7 L1607.5,555.1 L1609.0,556.4 L1610.5,557.7 L1612.0,558.9 L1613.5,560.0 L1615.0,561.1 L1616.5,562.1 L1618.0,563.1 L1619.5,563.9 L1621.0,564.8 L1622.5,565.5 L1624.0,566.2 L1625.5,566.9 L1627.0,567.5 L1628.5,568.0 L1630.0,568.5 L1631.5,569.0 L1633.0,569.4 L1634.5,569.8 L1636.0,570.0 L1637.5,570.0 L1639.0,570.0 L1640.5,570.0 L1642.0,570.0 L1643.5,570.0 L1645.0,570.0 L1646.5,570.0 L1648.0,570.0 L1649.5,570.0 L1651.0,570.0 L1652.5,570.0 L1654.0,570.0 L1655.5,570.0 L1657.0,570.0 L1658.5,570.0 L1660.0,570.0 L1661.5,570.0 L1663.0,570.0 L1664.5,570.0 L1666.0,570.0 L1667.5,570.0 L1669.0,570.0 L1670.5,570.0 L1672.0,570.0 L1673.5,570.0 L1675.0,570.0 L1676.5,570.0 L1678.0,570.0 L1679.5,570.0 L1681.0,570.0 L1682.5,570.0 L1684.0,570.0 L1685.5,570.0 L1687.0,570.0 L1688.5,570.0 L1690.0,570.0 L1691.5,570.0 L1693.0,570.0 L1694.5,570.0 L1696.0,570.0 L1697.5,570.0 L1699.0,570.0 L1700.5,570.0 L1702.0,570.0 L1703.5,570.0 L1705.0,570.0 L1706.5,570.0 L1708.0,570.0 L1709.5,570.0 L1711.0,570.0 L1712.5,570.0 L1714.0,570.0 L1715.5,570.0 L1717.0,570.0 L1718.5,570.0 L1720.0,570.0 L1721.5,570.0 L1723.0,570.0 L1724.5,570.0 L1726.0,570.0 L1727.5,570.0 L1729.0,570.0 L1730.5,570.0 L1732.0,570.0 L1733.5,570.0 L1735.0,570.0 L1736.5,570.0 L1738.0,570.0 L1739.5,570.0" fill="none" stroke="#215b96" stroke-width="4.2" stroke-linecap="round"/>
<path d="M1130.5,561.0 L1132.0,560.5 L1133.5,560.0 L1135.0,559.5 L1136.5,559.0 L1138.0,558.5 L1139.5,557.9 L1141.0,557.3 L1142.5,556.7 L1144.0,556.1 L1145.5,555.5 L1147.0,554.8 L1148.5,554.1 L1150.0,553.4 L1151.5,552.7 L1153.0,551.9 L1154.5,551.1 L1156.0,550.2 L1157.5,549.4 L1159.0,548.5 L1160.5,547.5 L1162.0,546.6 L1163.5,545.5 L1165.0,544.5 L1166.5,543.4 L1168.0,542.3 L1169.5,541.2 L1171.0,540.0 L1172.5,538.7 L1174.0,537.4 L1175.5,536.1 L1177.0,534.8 L1178.5,533.3 L1180.0,531.9 L1181.5,530.4 L1183.0,528.8 L1184.5,527.2 L1186.0,525.6 L1187.5,523.9 L1189.0,522.2 L1190.5,520.4 L1192.0,518.6 L1193.5,516.7 L1195.0,514.8 L1196.5,512.8 L1198.0,510.8 L1199.5,508.7 L1201.0,506.6 L1202.5,504.5 L1204.0,502.3 L1205.5,500.0 L1207.0,497.8 L1208.5,495.4 L1210.0,493.1 L1211.5,490.6 L1213.0,488.2 L1214.5,485.7 L1216.0,483.1 L1217.5,480.6 L1219.0,477.9 L1220.5,475.3 L1222.0,472.6 L1223.5,469.8 L1225.0,467.1 L1226.5,464.2 L1228.0,461.4 L1229.5,458.5 L1231.0,455.6 L1232.5,452.6 L1234.0,449.6 L1235.5,446.6 L1237.0,443.5 L1238.5,440.4 L1240.0,437.3 L1241.5,434.1 L1243.0,430.9 L1244.5,427.7 L1246.0,424.4 L1247.5,421.1 L1249.0,417.8 L1250.5,414.5 L1252.0,411.1 L1253.5,407.7 L1255.0,404.3 L1256.5,400.8 L1258.0,397.4 L1259.5,393.9 L1261.0,390.3 L1262.5,386.8 L1264.0,383.2 L1265.5,379.7 L1267.0,376.1 L1268.5,372.5 L1270.0,368.9 L1271.5,365.3 L1273.0,361.7 L1274.5,358.1 L1276.0,354.5 L1277.5,350.9 L1279.0,347.3 L1280.5,343.7 L1282.0,340.1 L1283.5,336.6 L1285.0,333.1 L1286.5,329.6 L1288.0,326.1 L1289.5,322.6 L1291.0,319.2 L1292.5,315.8 L1294.0,312.5 L1295.5,309.2 L1297.0,305.9 L1298.5,302.6 L1300.0,299.5 L1301.5,296.3 L1303.0,293.2 L1304.5,290.2 L1306.0,287.2 L1307.5,284.3 L1309.0,281.4 L1310.5,278.6 L1312.0,275.9 L1313.5,273.2 L1315.0,270.6 L1316.5,268.1 L1318.0,265.7 L1319.5,263.3 L1321.0,261.1 L1322.5,259.0 L1324.0,257.0 L1325.5,255.1 L1327.0,253.4 L1328.5,251.7 L1330.0,250.2 L1331.5,248.9 L1333.0,247.6 L1334.5,246.5 L1336.0,245.5 L1337.5,244.7 L1339.0,244.0 L1340.5,243.4 L1342.0,242.9 L1343.5,242.5 L1345.0,242.2 L1346.5,242.0 L1348.0,242.0 L1349.5,242.0 L1351.0,242.1 L1352.5,242.3 L1354.0,242.6 L1355.5,243.0 L1357.0,243.5 L1358.5,244.1 L1360.0,244.7 L1361.5,245.5 L1363.0,246.3 L1364.5,247.1 L1366.0,248.1 L1367.5,249.1 L1369.0,250.1 L1370.5,251.2 L1372.0,252.4 L1373.5,253.6 L1375.0,254.9 L1376.5,256.2 L1378.0,257.5 L1379.5,258.9 L1381.0,260.4 L1382.5,261.8 L1384.0,263.3 L1385.5,264.8 L1387.0,266.4 L1388.5,267.9 L1390.0,269.5 L1391.5,271.2 L1393.0,272.8 L1394.5,274.5 L1396.0,276.2 L1397.5,277.9 L1399.0,279.6 L1400.5,281.3 L1402.0,283.1 L1403.5,284.9 L1405.0,286.7 L1406.5,288.5 L1408.0,290.3 L1409.5,292.1 L1411.0,294.0 L1412.5,295.8 L1414.0,297.7 L1415.5,299.6 L1417.0,301.5 L1418.5,303.4 L1420.0,305.3 L1421.5,307.2 L1423.0,309.1 L1424.5,311.0 L1426.0,313.0 L1427.5,314.9 L1429.0,316.8 L1430.5,318.8 L1432.0,320.7 L1433.5,322.6 L1435.0,324.6 L1436.5,326.5 L1438.0,328.4 L1439.5,330.4 L1441.0,332.3 L1442.5,334.2 L1444.0,336.1 L1445.5,338.1 L1447.0,340.0 L1448.5,341.9 L1450.0,343.7 L1451.5,345.6 L1453.0,347.5 L1454.5,349.3 L1456.0,351.2 L1457.5,353.0 L1459.0,354.8 L1460.5,356.6 L1462.0,358.4 L1463.5,360.2 L1465.0,361.9 L1466.5,363.7 L1468.0,365.4 L1469.5,367.1 L1471.0,368.8 L1472.5,370.4 L1474.0,372.0 L1475.5,373.7 L1477.0,375.2 L1478.5,376.8 L1480.0,378.3 L1481.5,379.9 L1483.0,381.4 L1484.5,382.9 L1486.0,384.4 L1487.5,385.8 L1489.0,387.3 L1490.5,388.8 L1492.0,390.3 L1493.5,391.8 L1495.0,393.2 L1496.5,394.8 L1498.0,396.3 L1499.5,397.8 L1501.0,399.4 L1502.5,400.9 L1504.0,402.6 L1505.5,404.2 L1507.0,405.9 L1508.5,407.6 L1510.0,409.3 L1511.5,411.1 L1513.0,412.9 L1514.5,414.8 L1516.0,416.7 L1517.5,418.7 L1519.0,420.8 L1520.5,422.9 L1522.0,425.0 L1523.5,427.2 L1525.0,429.5 L1526.5,431.9 L1528.0,434.3 L1529.5,436.8 L1531.0,439.3 L1532.5,441.9 L1534.0,444.5 L1535.5,447.2 L1537.0,449.9 L1538.5,452.6 L1540.0,455.4 L1541.5,458.2 L1543.0,461.0 L1544.5,463.8 L1546.0,466.6 L1547.5,469.5 L1549.0,472.3 L1550.5,475.1 L1552.0,477.9 L1553.5,480.7 L1555.0,483.5 L1556.5,486.3 L1558.0,489.0 L1559.5,491.7 L1561.0,494.4 L1562.5,497.1 L1564.0,499.7 L1565.5,502.2 L1567.0,504.8 L1568.5,507.3 L1570.0,509.7 L1571.5,512.1 L1573.0,514.5 L1574.5,516.8 L1576.0,519.1 L1577.5,521.3 L1579.0,523.5 L1580.5,525.6 L1582.0,527.6 L1583.5,529.6 L1585.0,531.5 L1586.5,533.3 L1588.0,535.1 L1589.5,536.8 L1591.0,538.5 L1592.5,540.1 L1594.0,541.6 L1595.5,543.0 L1597.0,544.4 L1598.5,545.8 L1600.0,547.0 L1601.5,548.3 L1603.0,549.4 L1604.5,550.6 L1606.0,551.6 L1607.5,552.7 L1609.0,553.7 L1610.5,554.6 L1612.0,555.5 L1613.5,556.4 L1615.0,557.3 L1616.5,558.1 L1618.0,558.9 L1619.5,559.6 L1621.0,560.3 L1622.5,561.0 L1624.0,561.7 L1625.5,562.3 L1627.0,562.9 L1628.5,563.5 L1630.0,564.0 L1631.5,564.5 L1633.0,565.0 L1634.5,565.5 L1636.0,565.9 L1637.5,566.3 L1639.0,566.7 L1640.5,567.1 L1642.0,567.4 L1643.5,567.7 L1645.0,568.0 L1646.5,568.3 L1648.0,568.6 L1649.5,568.8 L1651.0,569.0 L1652.5,569.2 L1654.0,569.4 L1655.5,569.6 L1657.0,569.7 L1658.5,569.8 L1660.0,570.0 L1661.5,570.0 L1663.0,570.0 L1664.5,570.0 L1666.0,570.0 L1667.5,570.0 L1669.0,570.0 L1670.5,570.0 L1672.0,570.0 L1673.5,570.0 L1675.0,570.0 L1676.5,570.0 L1678.0,570.0 L1679.5,570.0 L1681.0,570.0 L1682.5,570.0 L1684.0,570.0 L1685.5,570.0 L1687.0,570.0 L1688.5,570.0 L1690.0,570.0 L1691.5,570.0 L1693.0,570.0 L1694.5,570.0 L1696.0,570.0 L1697.5,570.0 L1699.0,570.0 L1700.5,570.0 L1702.0,570.0 L1703.5,570.0 L1705.0,570.0 L1706.5,570.0 L1708.0,570.0 L1709.5,570.0 L1711.0,570.0 L1712.5,570.0 L1714.0,570.0 L1715.5,570.0 L1717.0,570.0 L1718.5,570.0 L1720.0,570.0 L1721.5,570.0 L1723.0,570.0 L1724.5,570.0 L1726.0,570.0 L1727.5,570.0 L1729.0,570.0 L1730.5,570.0 L1732.0,570.0 L1733.5,570.0 L1735.0,570.0 L1736.5,570.0 L1738.0,570.0" fill="none" stroke="#000" stroke-width="2.6" stroke-linecap="round" stroke-dasharray="9.5,9"/>
<path d="M1129.0,569.0 L1130.5,568.9 L1132.0,568.7 L1133.5,568.5 L1135.0,568.3 L1136.5,568.1 L1138.0,567.8 L1139.5,567.5 L1141.0,567.3 L1142.5,567.0 L1144.0,566.7 L1145.5,566.3 L1147.0,566.0 L1148.5,565.7 L1150.0,565.3 L1151.5,564.9 L1153.0,564.6 L1154.5,564.2 L1156.0,563.8 L1157.5,563.4 L1159.0,563.0 L1160.5,562.6 L1162.0,562.2 L1163.5,561.8 L1165.0,561.3 L1166.5,560.9 L1168.0,560.5 L1169.5,560.0 L1171.0,559.5 L1172.5,559.1 L1174.0,558.6 L1175.5,558.1 L1177.0,557.6 L1178.5,557.1 L1180.0,556.5 L1181.5,555.9 L1183.0,555.2 L1184.5,554.5 L1186.0,553.7 L1187.5,552.8 L1189.0,551.8 L1190.5,550.7 L1192.0,549.5 L1193.5,548.3 L1195.0,546.9 L1196.5,545.4 L1198.0,543.8 L1199.5,542.2 L1201.0,540.4 L1202.5,538.6 L1204.0,536.8 L1205.5,534.9 L1207.0,533.1 L1208.5,531.2 L1210.0,529.5 L1211.5,527.8 L1213.0,526.2 L1214.5,524.7 L1216.0,523.3 L1217.5,522.1 L1219.0,520.9 L1220.5,519.7 L1222.0,518.6 L1223.5,517.5 L1225.0,516.4 L1226.5,515.2 L1228.0,514.0 L1229.5,512.6 L1231.0,511.1 L1232.5,509.4 L1234.0,507.5 L1235.5,505.5 L1237.0,503.1 L1238.5,500.6 L1240.0,497.7 L1241.5,494.5 L1243.0,491.1 L1244.5,487.5 L1246.0,483.7 L1247.5,479.7 L1249.0,475.6 L1250.5,471.5 L1252.0,467.3 L1253.5,463.0 L1255.0,458.8 L1256.5,454.6 L1258.0,450.5 L1259.5,446.6 L1261.0,442.7 L1262.5,439.1 L1264.0,435.7 L1265.5,432.5 L1267.0,429.5 L1268.5,426.7 L1270.0,424.1 L1271.5,421.6 L1273.0,419.3 L1274.5,417.1 L1276.0,414.9 L1277.5,412.8 L1279.0,410.7 L1280.5,408.6 L1282.0,406.5 L1283.5,404.4 L1285.0,402.2 L1286.5,399.9 L1288.0,397.4 L1289.5,394.9 L1291.0,392.2 L1292.5,389.4 L1294.0,386.5 L1295.5,383.6 L1297.0,380.6 L1298.5,377.6 L1300.0,374.6 L1301.5,371.7 L1303.0,368.8 L1304.5,366.0 L1306.0,363.2 L1307.5,360.6 L1309.0,358.1 L1310.5,355.7 L1312.0,353.4 L1313.5,351.3 L1315.0,349.2 L1316.5,347.3 L1318.0,345.5 L1319.5,343.8 L1321.0,342.3 L1322.5,340.8 L1324.0,339.5 L1325.5,338.3 L1327.0,337.2 L1328.5,336.2 L1330.0,335.4 L1331.5,334.6 L1333.0,334.0 L1334.5,333.5 L1336.0,333.1 L1337.5,332.8 L1339.0,332.7 L1340.5,332.6 L1342.0,332.7 L1343.5,332.8 L1345.0,333.1 L1346.5,333.5 L1348.0,333.9 L1349.5,334.5 L1351.0,335.2 L1352.5,335.9 L1354.0,336.8 L1355.5,337.7 L1357.0,338.7 L1358.5,339.9 L1360.0,341.1 L1361.5,342.3 L1363.0,343.7 L1364.5,345.1 L1366.0,346.6 L1367.5,348.2 L1369.0,349.9 L1370.5,351.6 L1372.0,353.4 L1373.5,355.3 L1375.0,357.2 L1376.5,359.2 L1378.0,361.2 L1379.5,363.3 L1381.0,365.5 L1382.5,367.7 L1384.0,369.9 L1385.5,372.2 L1387.0,374.6 L1388.5,377.0 L1390.0,379.4 L1391.5,381.9 L1393.0,384.4 L1394.5,387.0 L1396.0,389.6 L1397.5,392.2 L1399.0,394.8 L1400.5,397.4 L1402.0,399.9 L1403.5,402.5 L1405.0,405.1 L1406.5,407.6 L1408.0,410.0 L1409.5,412.5 L1411.0,414.8 L1412.5,417.1 L1414.0,419.3 L1415.5,421.5 L1417.0,423.5 L1418.5,425.5 L1420.0,427.3 L1421.5,429.1 L1423.0,430.7 L1424.5,432.2 L1426.0,433.5 L1427.5,434.7 L1429.0,435.7 L1430.5,436.6 L1432.0,437.3 L1433.5,437.9 L1435.0,438.2 L1436.5,438.4 L1438.0,438.4 L1439.5,438.1 L1441.0,437.6 L1442.5,436.9 L1444.0,436.0 L1445.5,434.8 L1447.0,433.4 L1448.5,431.7 L1450.0,429.8 L1451.5,427.5 L1453.0,425.0 L1454.5,422.3 L1456.0,419.2 L1457.5,415.8 L1459.0,412.0 L1460.5,408.0 L1462.0,403.7 L1463.5,399.0 L1465.0,394.1 L1466.5,388.9 L1468.0,383.4 L1469.5,377.7 L1471.0,371.8 L1472.5,365.7 L1474.0,359.5 L1475.5,353.1 L1477.0,346.5 L1478.5,339.8 L1480.0,333.1 L1481.5,326.2 L1483.0,319.3 L1484.5,312.4 L1486.0,305.4 L1487.5,298.4 L1489.0,291.4 L1490.5,284.5 L1492.0,277.6 L1493.5,270.7 L1495.0,264.0 L1496.5,257.4 L1498.0,251.0 L1499.5,244.7 L1501.0,238.6 L1502.5,232.7 L1504.0,227.1 L1505.5,221.7 L1507.0,216.6 L1508.5,211.8 L1510.0,207.4 L1511.5,203.2 L1513.0,199.5 L1514.5,196.0 L1516.0,193.0 L1517.5,190.3 L1519.0,188.0 L1520.5,186.0 L1522.0,184.5 L1523.5,183.3 L1525.0,182.5 L1526.5,182.1 L1528.0,182.1 L1529.5,182.6 L1531.0,183.4 L1532.5,184.7 L1534.0,186.4 L1535.5,188.6 L1537.0,191.1 L1538.5,194.2 L1540.0,197.6 L1541.5,201.4 L1543.0,205.4 L1544.5,209.5 L1546.0,213.6 L1547.5,217.8 L1549.0,222.2 L1550.5,226.8 L1552.0,231.6 L1553.5,236.9 L1555.0,242.5 L1556.5,248.5 L1558.0,254.8 L1559.5,261.5 L1561.0,268.4 L1562.5,275.6 L1564.0,283.0 L1565.5,290.7 L1567.0,298.5 L1568.5,306.6 L1570.0,314.8 L1571.5,323.2 L1573.0,331.7 L1574.5,340.3 L1576.0,349.0 L1577.5,357.7 L1579.0,366.5 L1580.5,375.3 L1582.0,384.2 L1583.5,393.0 L1585.0,401.7 L1586.5,410.4 L1588.0,419.0 L1589.5,427.5 L1591.0,435.9 L1592.5,444.1 L1594.0,452.1 L1595.5,459.9 L1597.0,467.5 L1598.5,474.8 L1600.0,481.9 L1601.5,488.6 L1603.0,495.0 L1604.5,501.0 L1606.0,506.6 L1607.5,511.8 L1609.0,516.6 L1610.5,521.0 L1612.0,524.9 L1613.5,528.3 L1615.0,531.4 L1616.5,534.1 L1618.0,536.6 L1619.5,538.7 L1621.0,540.7 L1622.5,542.4 L1624.0,544.0 L1625.5,545.5 L1627.0,546.9 L1628.5,548.4 L1630.0,549.7 L1631.5,551.1 L1633.0,552.4 L1634.5,553.7 L1636.0,555.0 L1637.5,556.2 L1639.0,557.3 L1640.5,558.4 L1642.0,559.4 L1643.5,560.4 L1645.0,561.3 L1646.5,562.2 L1648.0,563.0 L1649.5,563.7 L1651.0,564.4 L1652.5,565.0 L1654.0,565.6 L1655.5,566.1 L1657.0,566.6 L1658.5,567.1 L1660.0,567.5 L1661.5,567.8 L1663.0,568.1 L1664.5,568.4 L1666.0,568.7 L1667.5,568.9 L1669.0,569.0 L1670.5,569.2 L1672.0,569.3 L1673.5,569.4 L1675.0,569.4 L1676.5,569.5 L1678.0,569.5 L1679.5,569.4 L1681.0,569.4 L1682.5,569.4 L1684.0,569.3 L1685.5,569.2 L1687.0,569.1 L1688.5,569.0 L1690.0,568.8 L1691.5,568.7 L1693.0,568.6 L1694.5,568.4 L1696.0,568.2 L1697.5,568.1 L1699.0,567.9 L1700.5,567.8 L1702.0,567.6 L1703.5,567.5 L1705.0,567.3 L1706.5,567.2 L1708.0,567.0 L1709.5,566.9 L1711.0,566.8 L1712.5,566.7 L1714.0,566.6 L1715.5,566.6 L1717.0,566.5 L1718.5,566.5 L1720.0,566.5 L1721.5,566.5 L1723.0,566.6 L1724.5,566.6 L1726.0,566.7 L1727.5,566.9 L1729.0,567.0 L1730.5,567.2 L1732.0,567.5 L1733.5,567.7 L1735.0,568.0 L1736.5,568.4 L1738.0,568.8 L1739.5,569.2 L1741.0,569.7" fill="none" stroke="#000" stroke-width="2.6" stroke-linecap="round" stroke-dasharray="9.5,9"/>
<path d="M1528.4,407.5 V256" stroke="#000" stroke-width="3.2"/>
<path d="M1528.4,247.6 L1537,263.8 L1528.4,259.8 L1519.8,263.6 Z" fill="#000"/>
<text x="1056.5" y="140.1" text-anchor="end" style="font-family:'Liberation Sans',Arial,Helvetica,sans-serif;font-size:35px">0.6</text>
<text x="1056.5" y="287.5" text-anchor="end" style="font-family:'Liberation Sans',Arial,Helvetica,sans-serif;font-size:35px">0.4</text>
<text x="1056.5" y="434.8" text-anchor="end" style="font-family:'Liberation Sans',Arial,Helvetica,sans-serif;font-size:35px">0.2</text>
<text x="1056.5" y="582.4" text-anchor="end" style="font-family:'Liberation Sans',Arial,Helvetica,sans-serif;font-size:35px">0.0</text>
<text x="1187.4" y="622.4" text-anchor="middle" style="font-family:'Liberation Sans',Arial,Helvetica,sans-serif;font-size:35px">20</text>
<text x="1408.6" y="622.4" text-anchor="middle" style="font-family:'Liberation Sans',Arial,Helvetica,sans-serif;font-size:35px">40</text>
<text x="1629.8" y="622.4" text-anchor="middle" style="font-family:'Liberation Sans',Arial,Helvetica,sans-serif;font-size:35px">60</text>
<text x="1411.5" y="680.2" text-anchor="middle" style="font-family:'Liberation Sans',Arial,Helvetica,sans-serif;font-size:39px">distance (Å)</text>
<text transform="translate(981.2,372.5) rotate(-90)" style="font-family:'Liberation Sans',Arial,Helvetica,sans-serif;font-size:39px">P(r)</text>
<text x="1115.6" y="65.5" style="font-family:'Liberation Sans',Arial,Helvetica,sans-serif;font-size:38.7px;font-weight:bold" fill="#215b96">pCdk2<tspan font-size="25.6" dy="-13.3">Cdk4hub</tspan><tspan dy="13.3" dx="5.2">:cyclinA</tspan></text>
<text x="1115.6" y="110" style="font-family:'Liberation Sans',Arial,Helvetica,sans-serif;font-size:38.7px;font-weight:bold" fill="#1d1c52">pCdk2<tspan font-size="25.6" dy="-13.4">Cdk4hub</tspan><tspan dy="13.4" dx="5.2">:cyclinA + substrate</tspan></text>
<text x="1275" y="227.1" style="font-family:'Liberation Sans',Arial,Helvetica,sans-serif;font-size:32.4px;font-weight:bold" fill="#215b96">Aloop-in</text>
<text x="1453" y="166.9" style="font-family:'Liberation Sans',Arial,Helvetica,sans-serif;font-size:32.5px;font-weight:bold" fill="#1d1c52">Aloop-out<tspan font-size="21.5" dy="10.8" dx="-1.5">3</tspan></text>
</svg>
</body></html>
